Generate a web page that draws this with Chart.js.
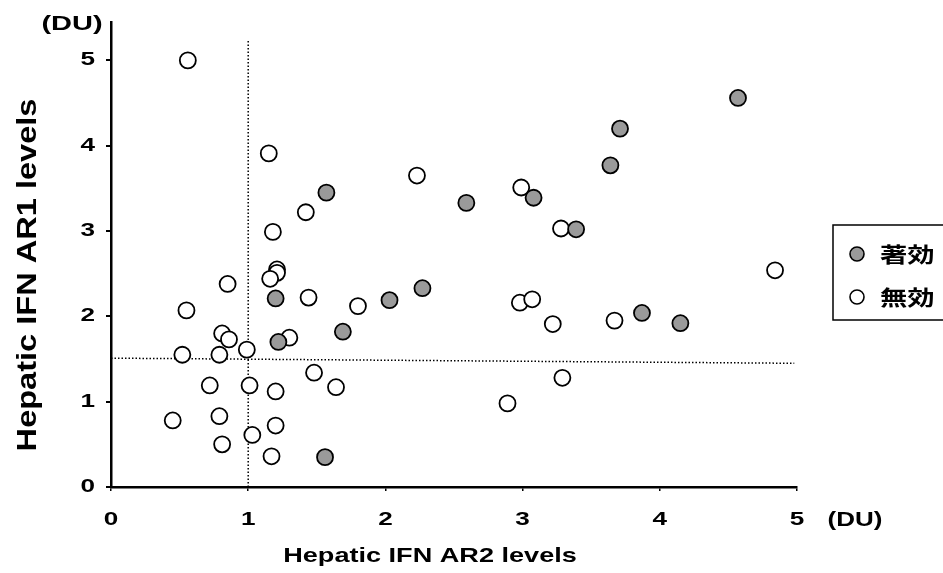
<!DOCTYPE html>
<html><head><meta charset="utf-8">
<script src="https://cdn.jsdelivr.net/npm/chart.js@4/dist/chart.umd.min.js"></script>
<style>html,body{margin:0;padding:0;background:#fff;}canvas{display:block}</style>
</head><body>
<canvas id="c" width="943" height="573"></canvas>
<script>
// ---- data ----
const xTicks = [0, 1, 2, 3, 4, 5];
const yTicks = [0, 1, 2, 3, 4, 5];
const seriesNames = ['著効', '無効'];
const xTitle = 'Hepatic IFN AR2 levels';
const yTitle = 'Hepatic IFN AR1 levels';
const unitLabel = '(DU)';

const effectiveAR2 = [1.57, 1.20, 2.03, 2.27, 1.69, 1.22, 1.56, 4.57, 3.71, 3.64, 2.59, 3.08, 3.39, 4.15, 3.87];
const effectiveAR1 = [3.45, 2.21, 2.19, 2.33, 1.82, 1.70, 0.35, 4.56, 4.20, 3.77, 3.33, 3.39, 3.02, 1.92, 2.04];

const ineffectiveAR2 = [0.56, 1.15, 2.23, 1.42, 1.18, 1.21, 1.21, 1.16, 0.85, 1.44, 1.80, 0.55, 0.81, 0.86, 1.30, 0.99, 0.52, 0.79, 1.48, 0.72, 1.01, 1.20, 1.64, 0.45, 0.79, 1.20, 1.03, 0.81, 1.17, 2.99, 3.28, 4.84, 2.98, 3.07, 3.22, 3.67, 3.29, 2.89];
const ineffectiveAR1 = [5.00, 3.91, 3.65, 3.22, 2.99, 2.55, 2.51, 2.44, 2.38, 2.22, 2.12, 2.07, 1.80, 1.73, 1.75, 1.61, 1.55, 1.55, 1.34, 1.19, 1.19, 1.12, 1.17, 0.78, 0.83, 0.72, 0.61, 0.50, 0.36, 3.51, 3.03, 2.54, 2.16, 2.20, 1.91, 1.95, 1.28, 0.98];

const cutoffAR2 = 1.0;            // vertical dotted line
const cutoffAR2Top = 5.25;        // where it ends
const cutoffAR1 = [1.51, 1.45];   // horizontal dotted line (left, right ends; scan skew)
const cutoffAR1Range = [0, 4.98];

// ---- helpers ----
const pts = (xs, ys) => xs.map((x, i) => ({ x, y: ys[i] }));
const FONT = '"Liberation Sans", Arial, sans-serif';
const CJK = '"Noto Sans CJK JP", sans-serif';
const FILL_GRAY = '#9a9a9a';

function stretchedText(ctx, text, x, y, o) {
  ctx.save();
  ctx.translate(x, y);
  ctx.scale(o.sx || 1, o.sy || 1);
  if (o.rot) ctx.rotate(o.rot);
  ctx.font = o.font;
  ctx.fillStyle = '#000';
  ctx.textAlign = o.align || 'center';
  ctx.textBaseline = o.baseline || 'middle';
  ctx.fillText(text, 0, 0);
  ctx.restore();
}

const textPlugin = {
  id: 'textPlugin',
  afterDraw(chart) {
    const ctx = chart.ctx;
    const xs = chart.scales.x, ys = chart.scales.y;
    // tick labels
    ys.ticks.forEach(t => {
      stretchedText(ctx, String(t.value), 95, ys.getPixelForValue(t.value),
        { font: 'bold 18px ' + FONT, sx: 1.45, align: 'right' });
    });
    xs.ticks.forEach(t => {
      stretchedText(ctx, String(t.value), xs.getPixelForValue(t.value), 520,
        { font: 'bold 18px ' + FONT, sx: 1.45 });
    });
    // units
    stretchedText(ctx, unitLabel, 72, 24, { font: 'bold 20px ' + FONT, sx: 1.45 });
    stretchedText(ctx, unitLabel, 855, 520, { font: 'bold 20px ' + FONT, sx: 1.3 });
    // axis titles
    stretchedText(ctx, xTitle, 430, 556, { font: 'bold 21px ' + FONT, sx: 1.29 });
    stretchedText(ctx, yTitle, 28, 275, { font: 'bold 21px ' + FONT, sx: 1.3, sy: 1.55, rot: -Math.PI / 2 });

    // legend box
    const bx = 833, by = 225, bh = 95;
    ctx.save();
    ctx.lineWidth = 1.5;
    ctx.strokeStyle = '#000';
    ctx.strokeRect(bx, by, 200, bh);
    ctx.restore();
    const items = [
      { name: seriesNames[0], ds: chart.data.datasets[0], y: 254 },
      { name: seriesNames[1], ds: chart.data.datasets[1], y: 297 }
    ];
    items.forEach(it => {
      ctx.save();
      ctx.beginPath();
      ctx.arc(857, it.y, 7, 0, Math.PI * 2);
      ctx.fillStyle = it.ds.backgroundColor;
      ctx.fill();
      ctx.lineWidth = 1.6;
      ctx.strokeStyle = '#000';
      ctx.stroke();
      ctx.restore();
      stretchedText(ctx, it.name, 880, it.y, { font: 'bold 21px ' + CJK, sx: 1.3, align: 'left' });
    });
  }
};

new Chart(document.getElementById('c'), {
  type: 'scatter',
  data: {
    datasets: [
      {
        label: seriesNames[0],
        data: pts(effectiveAR2, effectiveAR1),
        backgroundColor: FILL_GRAY,
        borderColor: '#000',
        borderWidth: 1.8,
        pointRadius: 8,
        order: 0
      },
      {
        label: seriesNames[1],
        data: pts(ineffectiveAR2, ineffectiveAR1),
        backgroundColor: '#fff',
        borderColor: '#000',
        borderWidth: 1.8,
        pointRadius: 8,
        order: 1
      },
      {
        type: 'line',
        label: 'cutoff AR2',
        data: [{ x: cutoffAR2, y: 0 }, { x: cutoffAR2, y: cutoffAR2Top }],
        borderColor: '#000',
        borderWidth: 1.5,
        borderDash: [1.5, 2],
        pointRadius: 0,
        fill: false,
        order: 5
      },
      {
        type: 'line',
        label: 'cutoff AR1',
        data: [{ x: cutoffAR1Range[0], y: cutoffAR1[0] }, { x: cutoffAR1Range[1], y: cutoffAR1[1] }],
        borderColor: '#000',
        borderWidth: 1.5,
        borderDash: [1.5, 2],
        pointRadius: 0,
        fill: false,
        order: 6
      }
    ]
  },
  options: {
    responsive: false,
    animation: false,
    layout: { padding: { left: 0, top: 22, right: 146, bottom: 0 } },
    plugins: { legend: { display: false }, tooltip: { enabled: false } },
    scales: {
      x: {
        type: 'linear', min: 0, max: 5,
        afterBuildTicks: s => { s.ticks = xTicks.map(v => ({ value: v })); },
        afterFit: s => { s.height = 86; },
        ticks: { display: false },
        grid: { drawOnChartArea: false, drawTicks: true, tickLength: 4, color: '#000', lineWidth: 1.5 },
        border: { display: true, color: '#000', width: 2.5 }
      },
      y: {
        type: 'linear', min: 0, max: 5.45,
        afterBuildTicks: s => { s.ticks = yTicks.map(v => ({ value: v })); },
        afterFit: s => { s.width = 111; },
        ticks: { display: false },
        grid: { drawOnChartArea: false, drawTicks: true, tickLength: 5, color: '#000', lineWidth: 2 },
        border: { display: true, color: '#000', width: 2.5 }
      }
    }
  },
  plugins: [textPlugin]
});
</script>
</body></html>
